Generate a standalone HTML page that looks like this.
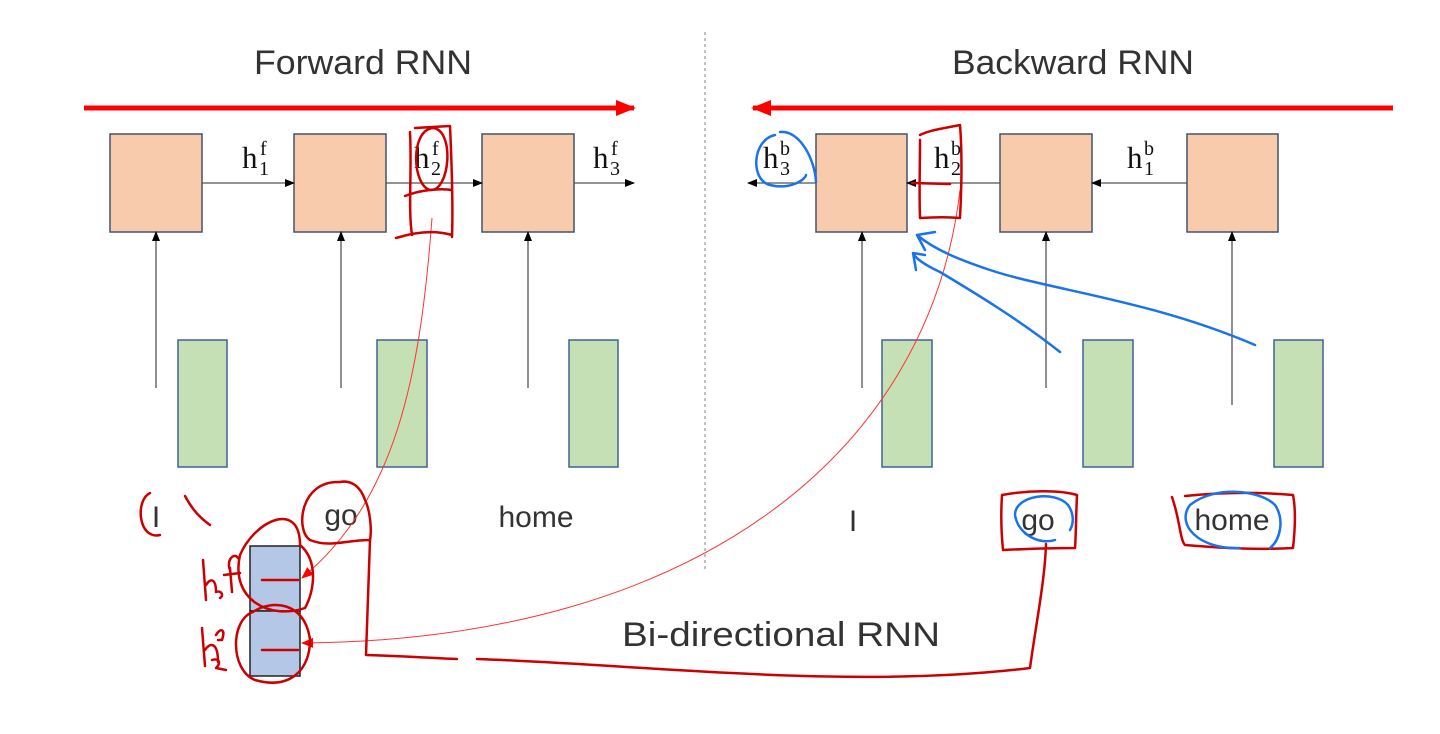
<!DOCTYPE html>
<html><head><meta charset="utf-8"><style>
html,body{margin:0;padding:0;background:#fff;}
svg{display:block;}
.t{font-family:"Liberation Sans",sans-serif;fill:#333;}
.m{font-family:"Liberation Serif",serif;fill:#111;}
</style></head><body>
<svg width="1440" height="734" viewBox="0 0 1440 734" xmlns="http://www.w3.org/2000/svg">
<defs>
<marker id="ab" markerWidth="10" markerHeight="10" refX="9" refY="5" orient="auto" markerUnits="userSpaceOnUse"><path d="M0,1 L10,5 L0,9 Z" fill="#000"/></marker>
<marker id="ar" markerWidth="20" markerHeight="16" refX="18" refY="8" orient="auto" markerUnits="userSpaceOnUse"><path d="M0,0 L20,8 L0,16 Z" fill="#f00"/></marker>
<marker id="ar2" markerWidth="12" markerHeight="10" refX="11" refY="5" orient="auto" markerUnits="userSpaceOnUse"><path d="M0,0 L12,5 L0,10 Z" fill="#f00"/></marker>
</defs>

<text class="t" x="363" y="74" font-size="34" text-anchor="middle" textLength="218" lengthAdjust="spacingAndGlyphs" fill="#444">Forward RNN</text>
<text class="t" x="1073" y="74" font-size="34" text-anchor="middle" textLength="242" lengthAdjust="spacingAndGlyphs" fill="#444">Backward RNN</text>

<line x1="84" y1="108" x2="634" y2="108" stroke="#f00" stroke-width="5" marker-end="url(#ar)"/>
<line x1="1393" y1="108" x2="753" y2="108" stroke="#f00" stroke-width="5" marker-end="url(#ar)"/>

<line x1="705" y1="32" x2="705" y2="570" stroke="#999" stroke-width="1.2" stroke-dasharray="3,3"/>

<g fill="#f8cbad" stroke="#44546a" stroke-width="1.5">
<rect x="110" y="134" width="92" height="98"/><rect x="294" y="134" width="92" height="98"/><rect x="482" y="134" width="92" height="98"/>
<rect x="816" y="134" width="91" height="98"/><rect x="1000" y="134" width="92" height="98"/><rect x="1187" y="134" width="91" height="98"/>
</g>
<g fill="#c5e0b4" stroke="#41609a" stroke-width="1.5">
<rect x="178" y="340" width="49" height="127"/><rect x="377" y="340" width="50" height="127"/><rect x="569" y="340" width="49" height="127"/>
<rect x="882" y="340" width="50" height="127"/><rect x="1083" y="340" width="50" height="127"/><rect x="1274" y="340" width="49" height="127"/>
</g>

<g stroke="#555" stroke-width="1.3" marker-end="url(#ab)">
<line x1="202" y1="183" x2="294" y2="183"/><line x1="386" y1="183" x2="482" y2="183"/><line x1="574" y1="183" x2="634" y2="183"/>
<line x1="1187" y1="183" x2="1092" y2="183"/><line x1="1000" y1="183" x2="907" y2="183"/><line x1="816" y1="183" x2="748" y2="183"/>
<line x1="156" y1="388" x2="156" y2="232"/><line x1="341" y1="388" x2="341" y2="232"/><line x1="528" y1="388" x2="528" y2="232"/>
<line x1="862" y1="388" x2="862" y2="232"/><line x1="1046" y1="388" x2="1046" y2="232"/><line x1="1232" y1="405" x2="1232" y2="232"/>
</g>

<g class="m" font-size="31">
<text x="242" y="168">h</text><text x="260" y="155" font-size="20">f</text><text x="259" y="175" font-size="20">1</text>
<text x="414" y="168">h</text><text x="432" y="155" font-size="20">f</text><text x="431" y="175" font-size="20">2</text>
<text x="593" y="168">h</text><text x="611" y="155" font-size="20">f</text><text x="610" y="175" font-size="20">3</text>
<text x="763" y="168">h</text><text x="780" y="155" font-size="20">b</text><text x="780" y="175" font-size="20">3</text>
<text x="934" y="168">h</text><text x="951" y="155" font-size="20">b</text><text x="951" y="175" font-size="20">2</text>
<text x="1127" y="168">h</text><text x="1144" y="155" font-size="20">b</text><text x="1144" y="175" font-size="20">1</text>
</g>

<g class="t" font-size="30" text-anchor="middle" fill="#444">
<text x="156" y="527">I</text><text x="341" y="525">go</text><text x="536" y="527">home</text>
<text x="853" y="531">I</text><text x="1038" y="530">go</text><text x="1232" y="530">home</text>
</g>

<g fill="#b4c7e7" stroke="#222" stroke-width="1.5">
<rect x="250" y="546" width="50" height="65"/><rect x="250" y="611" width="50" height="65"/>
</g>

<text class="t" x="781" y="646" font-size="34" text-anchor="middle" fill="#000" textLength="318" lengthAdjust="spacingAndGlyphs">Bi-directional RNN</text>

<path d="M432,218 C420,380 395,500 302,578" fill="none" stroke="#f33" stroke-width="1" marker-end="url(#ar2)"/>
<path d="M960,190 C930,450 700,640 302,643" fill="none" stroke="#f33" stroke-width="1" marker-end="url(#ar2)"/>

<g fill="none" stroke="#c00" stroke-width="2.5" stroke-linecap="round" stroke-linejoin="round">
<path d="M410,132 C412,170 408,210 412,235 M415,128 L450,126 C452,170 453,210 452,237 M405,196 C420,190 440,188 452,190 M396,238 C415,232 435,230 452,235"/>
<path d="M433,128 C410,130 412,185 430,190 C450,192 455,130 433,128"/>
<path d="M920,140 C920,170 919,190 920,218 C935,217 950,217 960,218 C962,180 962,150 960,125 C945,128 930,130 920,135 M912,183 L950,184"/>
<path d="M150,493 C135,500 138,540 160,535 M185,496 C190,505 196,515 210,525"/>
<path d="M340,482 C300,480 295,530 310,540 C330,548 345,540 370,540 C372,530 370,510 365,500 C360,485 350,480 340,482 M370,540 L366,655 C400,656 430,658 457,659 M477,659 C650,665 850,690 1030,668 C1035,630 1045,580 1046,544"/>
<path d="M300,545 C300,500 255,520 240,555 C230,600 270,620 305,608 C315,590 318,560 300,545"/>
<path d="M253,612 C230,620 230,670 255,680 C290,690 310,670 310,640 C305,600 270,600 253,612"/>
<path d="M262,580 L298,580 M262,650 L298,650"/>
<path d="M1002,495 C1030,490 1060,490 1077,495 C1076,515 1076,535 1075,548 C1050,548 1025,549 1003,550 C1001,530 1001,510 1002,495"/>
<path d="M1172,497 C1180,520 1180,540 1185,545 C1220,548 1260,550 1293,548 C1295,530 1296,510 1293,495 C1260,492 1225,492 1185,496"/>
<path d="M203,560 L206,600 M206,585 C210,578 216,578 216,592 M216,592 C222,590 224,596 220,598 M230,570 C226,560 234,552 238,558 M224,575 L240,573 M230,568 L232,592"/>
<path d="M202,628 L205,666 M205,650 C210,642 218,642 218,662 M216,635 C220,628 226,628 222,640 L218,640 M212,660 C218,658 222,662 216,668 L226,670"/>
</g>

<g fill="none" stroke="#1a73e8" stroke-width="2.5" stroke-linecap="round" stroke-linejoin="round">
<path d="M775,135 C752,140 750,180 770,185 C790,190 805,180 806,175 M780,132 C800,130 815,160 816,182"/>
<path d="M1015,515 C1015,495 1055,490 1068,505 C1075,515 1073,525 1070,530 M1015,515 C1018,535 1040,545 1055,540"/>
<path d="M1190,505 C1215,485 1260,490 1275,505 C1285,520 1280,540 1270,548 M1190,505 C1175,525 1200,550 1240,548"/>
<path d="M1060,352 C1020,320 970,290 940,272 C925,265 915,258 913,253 L916,270 M913,253 L925,255"/>
<path d="M1255,345 C1150,300 1050,290 990,270 C960,260 935,250 917,235 L925,250 M917,235 L935,232"/>
</g>
</svg>
</body></html>
